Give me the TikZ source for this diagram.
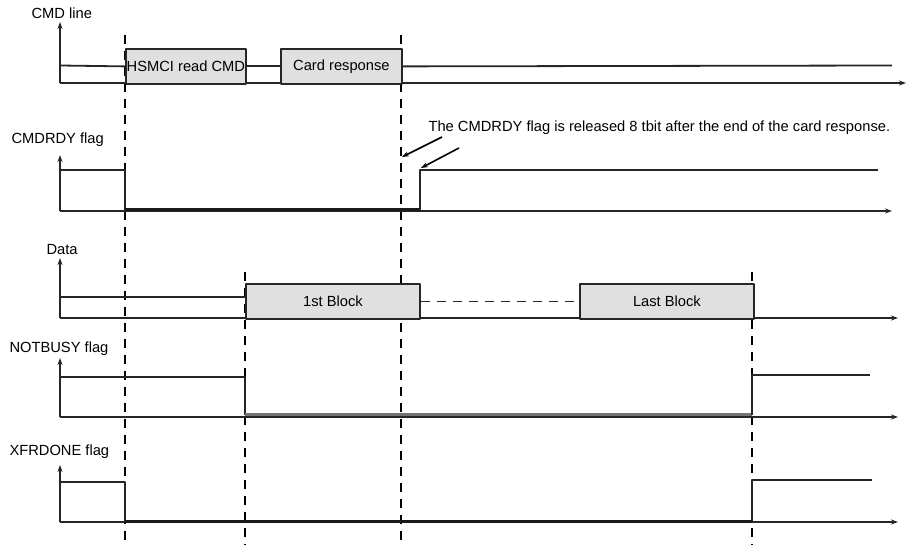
\documentclass[tikz,border=0pt]{standalone}
\usepackage{fontspec}
\setmainfont{Liberation Sans}
\usetikzlibrary{arrows.meta}
\begin{document}
\begin{tikzpicture}[x=1pt,y=-1pt,>={Stealth[length=7pt,width=5pt]},line join=round,
	font=\fontsize{14.7}{16}\selectfont,
	sig/.style={line width=1.8pt,draw=black!85},
	low/.style={line width=3pt,draw=black!90},
	ax/.style={->,line width=1.6pt,draw=black!85},
	guide/.style={dash pattern=on 9pt off 7pt,line width=1.7pt},
	blk/.style={draw=black!85,line width=1.8pt,fill=black!12,inner sep=0pt,anchor=north west,minimum height=35pt}]
	\useasboundingbox (0,0) rectangle (912,545);
	\def\xa{125} \def\xb{245} \def\xc{401} \def\xd{752} % Mốc thời gian
	% vạch đứt
	\draw[guide] (\xa,35)--(\xa,545);
	\draw[guide] (\xc,35)--(\xc,545);
	\draw[guide] (\xb,272)--(\xb,545);
	\draw[guide] (\xd,272)--(\xd,545);
	% CMD line
	\node[anchor=west] (lcmd) at (28,13) {CMD line};
	\draw[ax] (60,83)--(60,22);
	\draw[ax] (60,83)--(906,83);
	\node[blk,minimum width=120pt] (hsmci) at (\xa,48) {HSMCI read CMD};
	\node[blk,minimum width=121pt] (resp) at (280,48) {Card response};
	\draw[sig] (60,65.5)--(hsmci.west);
	\draw[sig] (hsmci.east)--(resp.west);
	\draw[sig] (resp.east)--(892,65.5);
	% CMDRDY
	\node[anchor=west] (lrdy) at (8,140) {CMDRDY flag};
	\draw[ax] (60,211)--(60,155);
	\draw[ax] (60,211)--(892,211);
	\draw[sig] (60,170)--(\xa,170)--(\xa,210);
	\draw[low] (\xa,210)--(420,210);
	\draw[sig] (420,210)--(420,170)--(878,170);
	\node[anchor=base west] (note) at (425,132) {The CMDRDY flag is released 8 tbit after the end of the card response.};
	\coordinate (p1) at (442,137); \coordinate (q1) at (402,157);
	\coordinate (p2) at (459,148); \coordinate (q2) at (421,168);
	\draw[->,line width=1.6pt] (p1)--(q1);
	\draw[->,line width=1.6pt] (p2)--(q2);
	% Data
	\node[anchor=west] (ldata) at (43,250) {Data};
	\draw[ax] (60,318)--(60,258);
	\draw[ax] (60,318)--(898,318);
	\node[blk,minimum width=174pt] (blk1) at (\xb,283) {1st Block};
	\node[blk,minimum width=174pt] (blkn) at (579,283) {Last Block};
	\draw[sig] (60,297)--(\xb,297);
	\draw[sig,dash pattern=on 9pt off 7pt] (blk1.east)--(blkn.west);
	% NOTBUSY
	\node[anchor=west] (lbusy) at (6,349) {NOTBUSY flag};
	\draw[ax] (60,417)--(60,358);
	\draw[ax] (60,417)--(898,417);
	\draw[sig] (60,377)--(\xb,377)--(\xb,415);
	\draw[line width=2.6pt,draw=black!55] (\xb,414.5)--(\xd,414.5);
	\draw[sig] (\xd,415)--(\xd,375)--(870,375);
	% XFRDONE
	\node[anchor=west] (ldone) at (6,452) {XFRDONE flag};
	\draw[ax] (60,522)--(60,465);
	\draw[ax] (60,522)--(898,522);
	\draw[sig] (60,482)--(\xa,482)--(\xa,521);
	\draw[low] (\xa,521)--(\xd,521);
	\draw[sig] (\xd,521)--(\xd,480)--(872,480);
\end{tikzpicture}
\end{document}
